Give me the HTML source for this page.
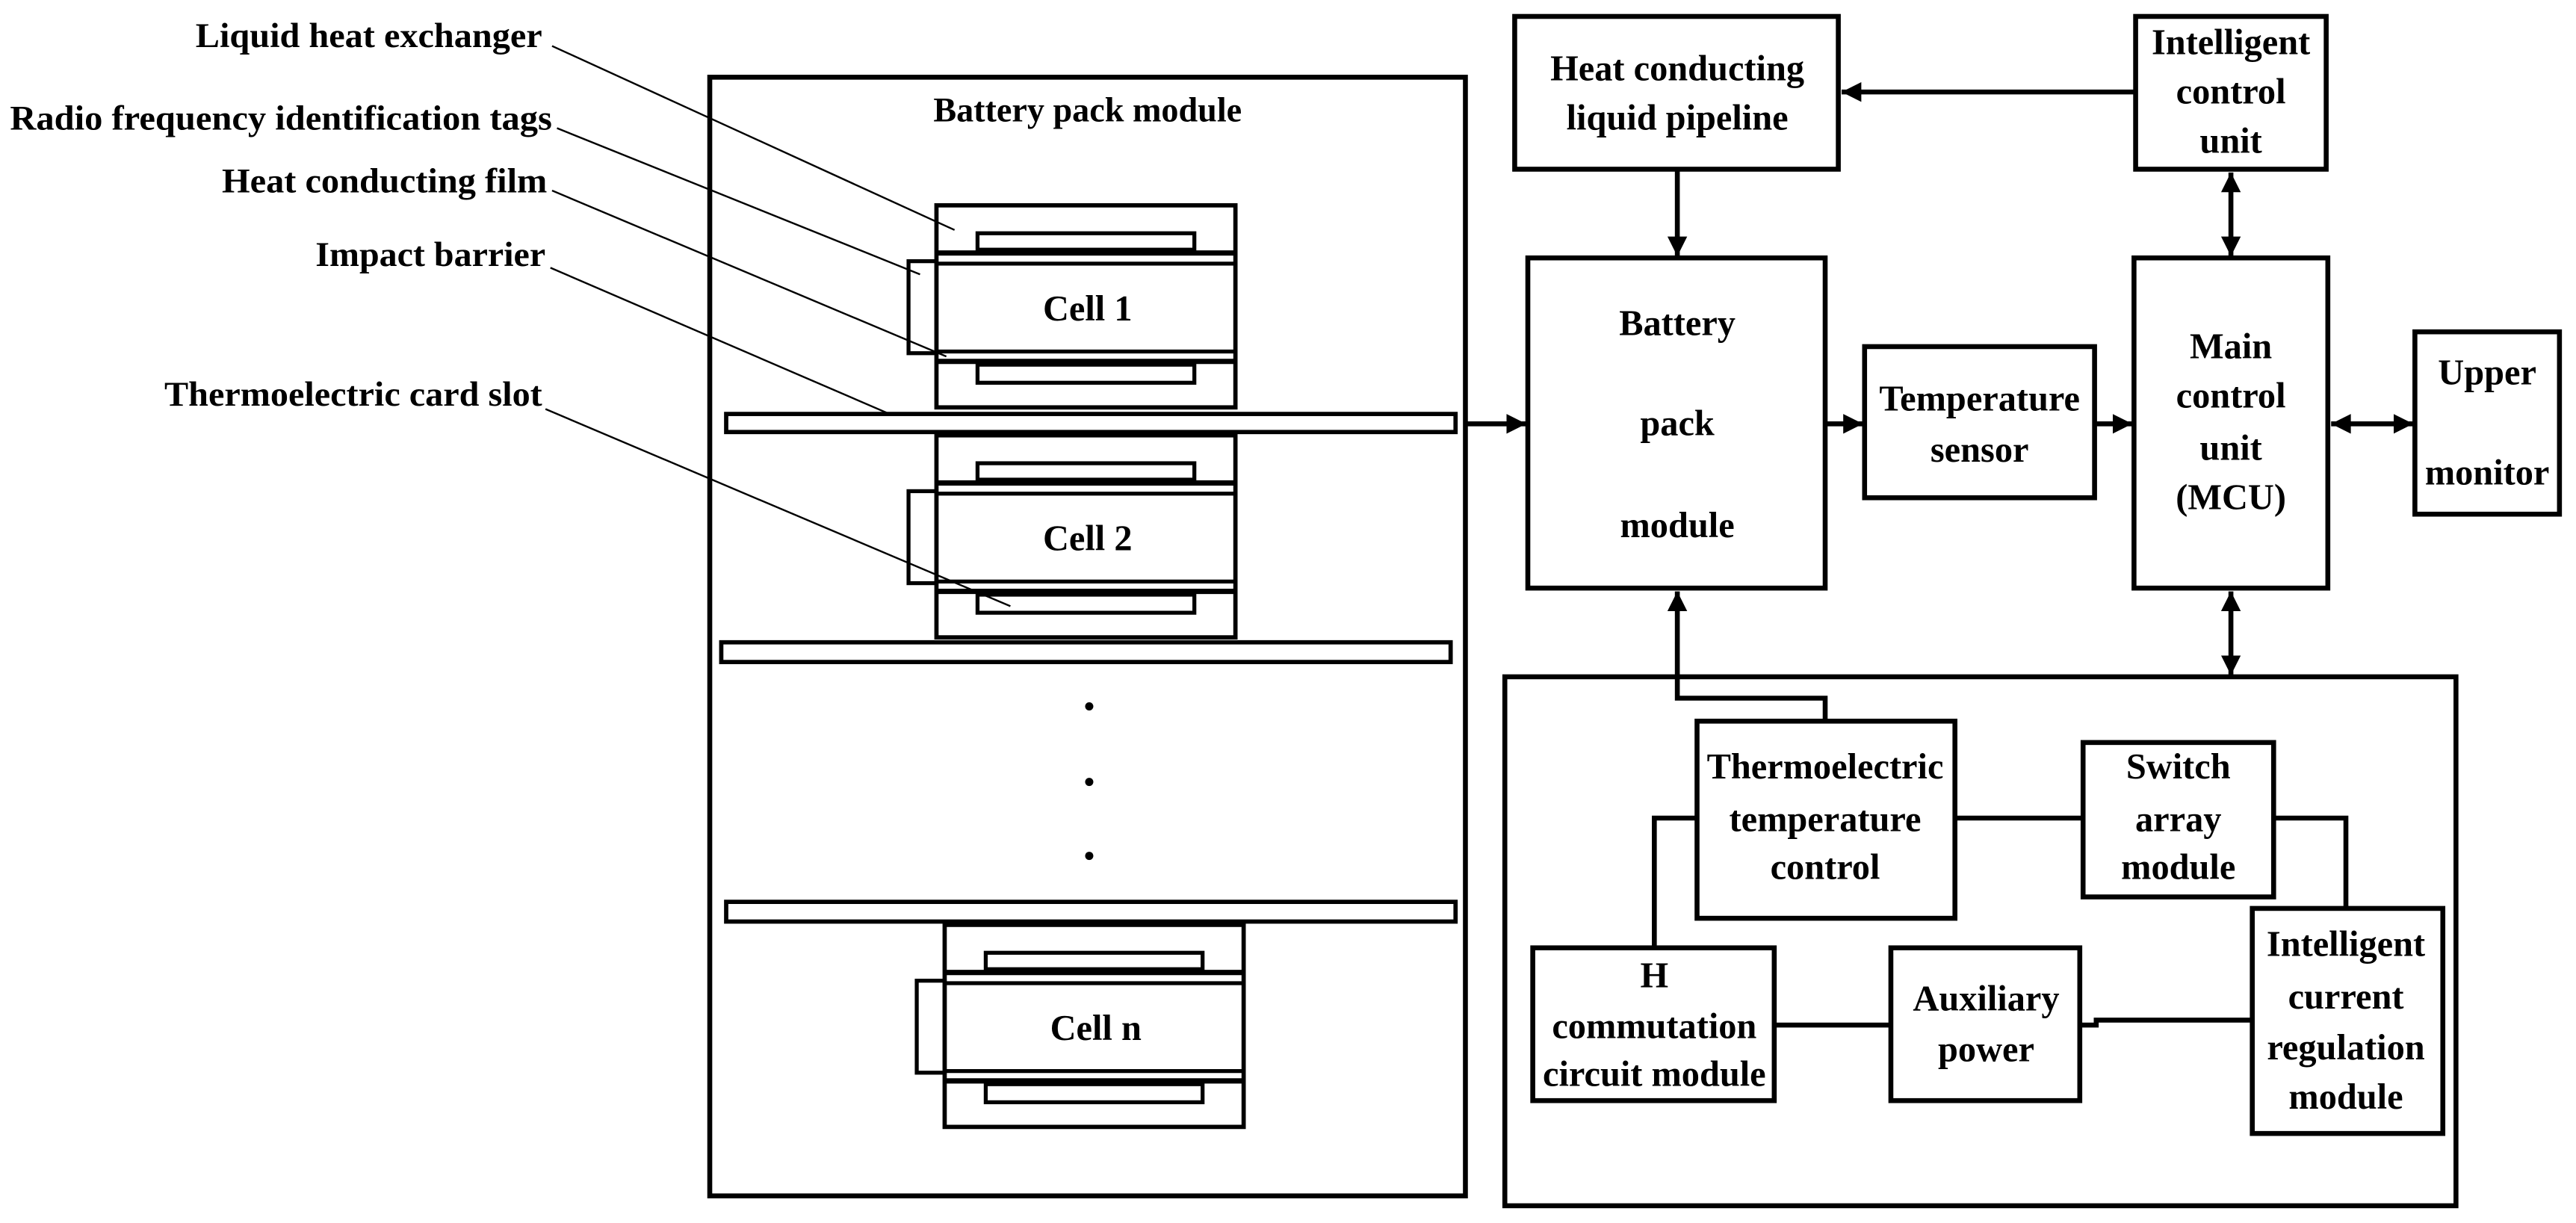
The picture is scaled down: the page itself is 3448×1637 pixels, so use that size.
<!DOCTYPE html>
<html><head><meta charset="utf-8"><style>
html,body{margin:0;padding:0;background:#fff;}
svg{display:block;}
text{font-family:"Liberation Serif",serif;font-weight:bold;fill:#000;}
</style></head><body>
<svg width="3448" height="1637" viewBox="0 0 1568 744.5" xmlns="http://www.w3.org/2000/svg">
<defs>
<marker id="a" markerUnits="userSpaceOnUse" markerWidth="14" markerHeight="12" refX="12" refY="6" orient="auto"><path d="M0,0 L12,6 L0,12 Z" fill="#000"/></marker>
<marker id="s" markerUnits="userSpaceOnUse" markerWidth="14" markerHeight="12" refX="0" refY="6" orient="auto"><path d="M12,0 L0,6 L12,12 Z" fill="#000"/></marker>
<g id="cell" fill="none" stroke="#000">
<rect x="570" y="125" width="182" height="123" stroke-width="2.6"/>
<rect x="595" y="142" width="132" height="10" stroke-width="2.4"/>
<line x1="570" y1="154" x2="752" y2="154" stroke-width="3.2"/>
<line x1="570" y1="160.5" x2="752" y2="160.5" stroke-width="2.4"/>
<rect x="553" y="159" width="17" height="56" stroke-width="2.4"/>
<line x1="570" y1="214" x2="752" y2="214" stroke-width="2.4"/>
<line x1="570" y1="220" x2="752" y2="220" stroke-width="3.2"/>
<rect x="595" y="222" width="132" height="11" stroke-width="2.4"/>
</g>
</defs>

<g font-size="21">
<text x="119" y="28.7" textLength="211" lengthAdjust="spacingAndGlyphs">Liquid heat exchanger</text>
<text x="6" y="79" textLength="330" lengthAdjust="spacingAndGlyphs">Radio frequency identification tags</text>
<text x="135" y="117" textLength="198" lengthAdjust="spacingAndGlyphs">Heat conducting film</text>
<text x="192" y="162" textLength="140" lengthAdjust="spacingAndGlyphs">Impact barrier</text>
<text x="100" y="247" textLength="230" lengthAdjust="spacingAndGlyphs">Thermoelectric card slot</text>
</g>
<g stroke="#000" stroke-width="1.1">
<line x1="336" y1="28" x2="581" y2="140"/>
<line x1="339" y1="78" x2="560" y2="167"/>
<line x1="336" y1="116" x2="576" y2="217"/>
<line x1="335" y1="163" x2="560" y2="260"/>
<line x1="332" y1="249" x2="615" y2="369"/>
</g>

<text x="662" y="74" font-size="21" text-anchor="middle">Battery pack module</text>
<rect x="432" y="47" width="460" height="681" fill="none" stroke="#000" stroke-width="3"/>

<use href="#cell"/>
<use href="#cell" transform="translate(0,140)"/>
<use href="#cell" transform="translate(5,438)"/>
<g font-size="22" text-anchor="middle">
<text x="662" y="195">Cell 1</text>
<text x="662" y="335">Cell 2</text>
<text x="667" y="633">Cell n</text>
</g>
<g fill="#fff" stroke="#000" stroke-width="2.6">
<rect x="442" y="252" width="444" height="11"/>
<rect x="439" y="391" width="444" height="12"/>
<rect x="442" y="549" width="444" height="12"/>
</g>
<line x1="570" y1="264.5" x2="752" y2="264.5" stroke="#000" stroke-width="3"/>
<line x1="575" y1="562.5" x2="757" y2="562.5" stroke="#000" stroke-width="3"/>
<circle cx="663" cy="430" r="2.5"/><circle cx="663" cy="476" r="2.5"/><circle cx="663" cy="521" r="2.5"/>

<g fill="none" stroke="#000" stroke-width="3">
<rect x="922" y="10" width="197" height="93"/>
<rect x="1300" y="10" width="116" height="93"/>
<rect x="930" y="157" width="181" height="201"/>
<rect x="1135" y="211" width="140" height="92"/>
<rect x="1299" y="157" width="118" height="201"/>
<rect x="1470" y="202" width="88" height="111"/>
<rect x="916" y="412" width="579" height="322"/>
<rect x="1033" y="439" width="157" height="120"/>
<rect x="1268" y="452" width="116" height="94"/>
<rect x="1371" y="553" width="116" height="137"/>
<rect x="933" y="577" width="147" height="93"/>
<rect x="1151" y="577" width="115" height="93"/>
</g>

<g stroke="#000" stroke-width="3" fill="none">
<line x1="892" y1="258" x2="929" y2="258" marker-end="url(#a)"/>
<line x1="1300" y1="56" x2="1121" y2="56" marker-end="url(#a)"/>
<line x1="1021" y1="103" x2="1021" y2="156" marker-end="url(#a)"/>
<line x1="1111" y1="258" x2="1134" y2="258" marker-end="url(#a)"/>
<line x1="1275" y1="258" x2="1298" y2="258" marker-end="url(#a)"/>
<line x1="1358" y1="105" x2="1358" y2="156" marker-start="url(#s)" marker-end="url(#a)"/>
<line x1="1419" y1="258" x2="1469" y2="258" marker-start="url(#s)" marker-end="url(#a)"/>
<line x1="1358" y1="360" x2="1358" y2="411" marker-start="url(#s)" marker-end="url(#a)"/>
<polyline points="1111,439 1111,425 1021,425 1021,360" marker-end="url(#a)"/>
<line x1="1190" y1="498" x2="1268" y2="498"/>
<polyline points="1384,498 1428,498 1428,553"/>
<polyline points="1033,498 1007,498 1007,577"/>
<line x1="1080" y1="624" x2="1151" y2="624"/>
<polyline points="1266,624 1276,624 1276,621 1371,621"/>
</g>

<g font-size="22" text-anchor="middle">
<text x="1021" y="49">Heat conducting</text>
<text x="1021" y="79">liquid pipeline</text>
<text x="1358" y="33">Intelligent</text>
<text x="1358" y="63">control</text>
<text x="1358" y="93">unit</text>
<text x="1021" y="204">Battery</text>
<text x="1021" y="265">pack</text>
<text x="1021" y="327">module</text>
<text x="1205" y="250">Temperature</text>
<text x="1205" y="281">sensor</text>
<text x="1358" y="218">Main</text>
<text x="1358" y="248">control</text>
<text x="1358" y="280">unit</text>
<text x="1358" y="310">(MCU)</text>
<text x="1514" y="234">Upper</text>
<text x="1514" y="295">monitor</text>
<text x="1111" y="474">Thermoelectric</text>
<text x="1111" y="506">temperature</text>
<text x="1111" y="535">control</text>
<text x="1326" y="474">Switch</text>
<text x="1326" y="506">array</text>
<text x="1326" y="535">module</text>
<text x="1428" y="582">Intelligent</text>
<text x="1428" y="614">current</text>
<text x="1428" y="645">regulation</text>
<text x="1428" y="675">module</text>
<text x="1007" y="601">H</text>
<text x="1007" y="632">commutation</text>
<text x="1007" y="661">circuit module</text>
<text x="1209" y="615">Auxiliary</text>
<text x="1209" y="646">power</text>
</g>
</svg>
</body></html>
